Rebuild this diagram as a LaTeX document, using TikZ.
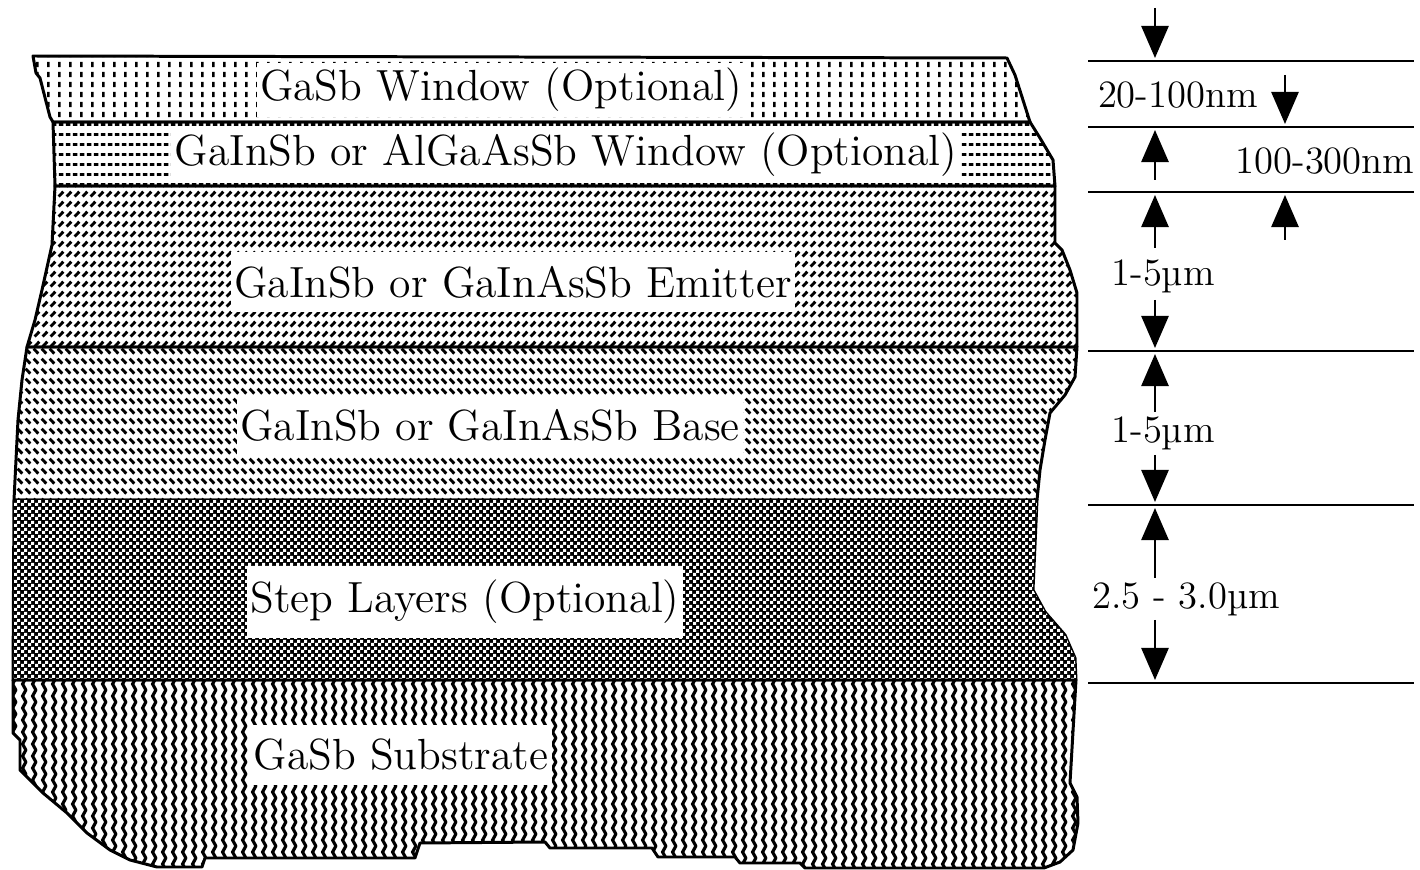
\documentclass[tikz,border=0pt]{standalone}
\usetikzlibrary{patterns,arrows.meta}

% bitmap-like fill patterns of the layers
\pgfdeclarepatternformonly{windowdots}{\pgfpointorigin}{\pgfqpoint{3.1pt}{2.85pt}}{\pgfqpoint{3.1pt}{2.85pt}}{%
  \pgfpathrectangle{\pgfqpoint{1.15pt}{0.6pt}}{\pgfqpoint{0.75pt}{1.6pt}}\pgfusepath{fill}}
\pgfdeclarepatternformonly{windowdashes}{\pgfpointorigin}{\pgfqpoint{2.1pt}{2.85pt}}{\pgfqpoint{2.1pt}{2.85pt}}{%
  \pgfpathrectangle{\pgfqpoint{0.3pt}{1pt}}{\pgfqpoint{1.35pt}{0.85pt}}\pgfusepath{fill}}
\pgfdeclarepatternformonly{emitterslash}{\pgfpointorigin}{\pgfqpoint{2.4pt}{2.8pt}}{\pgfqpoint{2.4pt}{2.8pt}}{%
  \pgfsetlinewidth{0.85pt}\pgfpathmoveto{\pgfqpoint{0.5pt}{0.7pt}}\pgfpathlineto{\pgfqpoint{1.9pt}{2.1pt}}\pgfusepath{stroke}}
\pgfdeclarepatternformonly{baseslash}{\pgfpointorigin}{\pgfqpoint{2.4pt}{2.8pt}}{\pgfqpoint{2.4pt}{2.8pt}}{%
  \pgfsetlinewidth{0.85pt}\pgfpathmoveto{\pgfqpoint{0.5pt}{2.1pt}}\pgfpathlineto{\pgfqpoint{1.9pt}{0.7pt}}\pgfusepath{stroke}}
\pgfdeclarepatternformonly{stepdots}{\pgfpointorigin}{\pgfqpoint{2pt}{2pt}}{\pgfqpoint{2pt}{2pt}}{%
  \pgfpathrectangle{\pgfqpoint{0.05pt}{0.05pt}}{\pgfqpoint{0.95pt}{0.95pt}}%
  \pgfpathrectangle{\pgfqpoint{1.05pt}{1.05pt}}{\pgfqpoint{0.95pt}{0.95pt}}\pgfusepath{fill}}
\pgfdeclarepatternformonly{substratezigzag}{\pgfpointorigin}{\pgfqpoint{2.85pt}{3.4pt}}{\pgfqpoint{2.85pt}{3.4pt}}{%
  \pgfsetlinewidth{0.95pt}\pgfsetmiterjoin
  \pgfpathmoveto{\pgfqpoint{1.9pt}{-0.1pt}}\pgfpathlineto{\pgfqpoint{0.8pt}{1.7pt}}%
  \pgfpathlineto{\pgfqpoint{1.9pt}{3.5pt}}\pgfusepath{stroke}}

\begin{document}
\begin{tikzpicture}[x=0.01cm,y=-0.01cm,
  layer/.style={line width=0.85pt,line join=round},
  layerlabel/.style={fill=white,inner xsep=1pt,inner ysep=4pt,font=\fontsize{12.4}{14}\selectfont},
  thinlabel/.style={layerlabel,inner ysep=1.5pt},
  dimlabel/.style={inner sep=1pt,font=\fontsize{11}{13}\selectfont},
  dimline/.style={line width=0.8pt},
  dimarrow/.style={line width=0.75pt,-{Triangle[width=0.27cm,length=0.32cm]}}]
\useasboundingbox (0,0) rectangle (1420,870);

% layer stack
\filldraw[layer,pattern=windowdots] (33,56) -- (1007,58) -- (1015,75) -- (1030,122) -- (53,122)
  -- (50,117) -- (40,78) -- (36,73) -- cycle;
\filldraw[layer,pattern=windowdashes] (53,122) -- (1030,122) -- (1040,138) -- (1053,160)
  -- (1055,186) -- (55,186) -- cycle;
\filldraw[layer,pattern=emitterslash] (55,186) -- (1055,186) -- (1055,243) -- (1062,250)
  -- (1070,270) -- (1077,293) -- (1077,347) -- (27,347) -- (35,320) -- (42,290) -- (52,245) -- cycle;
\filldraw[layer,pattern=baseslash] (27,347) -- (1077,347) -- (1075,377) -- (1065,395) -- (1050,413)
  -- (1045,440) -- (1040,470) -- (1037,500) -- (14,500) -- (18,420) -- (22,380) -- cycle;
\filldraw[layer,fill=black,postaction={pattern=stepdots,pattern color=white}]
  (14,500) -- (1037,500) -- (1033,590) -- (1045,612) -- (1065,635) -- (1075,658) -- (1076,680)
  -- (13,680) -- cycle;
\filldraw[layer,pattern=substratezigzag] (13,680) -- (1076,680) -- (1070,783) -- (1077,797)
  -- (1078,823) -- (1073,850) -- (1060,862) -- (1044,868) -- (805,868) -- (800,863) -- (740,863)
  -- (735,857) -- (658,857) -- (652,848) -- (550,848) -- (545,842) -- (420,843) -- (415,858)
  -- (205,858) -- (202,867) -- (157,867) -- (130,860) -- (110,850) -- (87,833) -- (67,813)
  -- (43,793) -- (20,770) -- (20,740) -- (13,733) -- cycle;

% layer names
\node[thinlabel] (window) at (501,90) {GaSb Window (Optional)};
\node[thinlabel] (topwindow) at (566,155) {GaInSb or AlGaAsSb Window (Optional)};
\node[layerlabel] (emitter) at (513,282) {GaInSb or GaInAsSb Emitter};
\node[layerlabel] (base) at (490,425) {GaInSb or GaInAsSb Base};
\node[layerlabel] (step) at (465,602) {Step Layers (Optional)};
\node[layerlabel] (substrate) at (401,755) {GaSb Substrate};

% thickness scale
\foreach \y [count=\i] in {61,127,192,351,505,683}{
  \coordinate (dl\i) at (1088,\y);
  \coordinate (dr\i) at (1414,\y);
  \draw[dimline] (dl\i) -- (dr\i);
}
\node[dimlabel] (windowsize) at (1178,95) {20-100nm};
\node[dimlabel] (topwindowsize) at (1325,161) {100-300nm};
\node[dimlabel] (emittersize) at (1163,276) {1-5µm};
\node[dimlabel] (basesize) at (1163,433) {1-5µm};
\node[dimlabel] (stepsize) at (1186,599) {2.5 - 3.0µm};

\draw[dimarrow] (1155,8) -- (1155,58);
\draw[dimarrow] (1285,75) -- (1285,124);
\draw[dimarrow] (1155,180) -- (1155,130);
\draw[dimarrow] (1155,248) -- (1155,195);
\draw[dimarrow] (1285,240) -- (1285,195);
\draw[dimarrow] (1155,300) -- (1155,348);
\draw[dimarrow] (1155,412) -- (1155,354);
\draw[dimarrow] (1155,455) -- (1155,502);
\draw[dimarrow] (1155,578) -- (1155,508);
\draw[dimarrow] (1155,620) -- (1155,680);
\end{tikzpicture}
\end{document}
